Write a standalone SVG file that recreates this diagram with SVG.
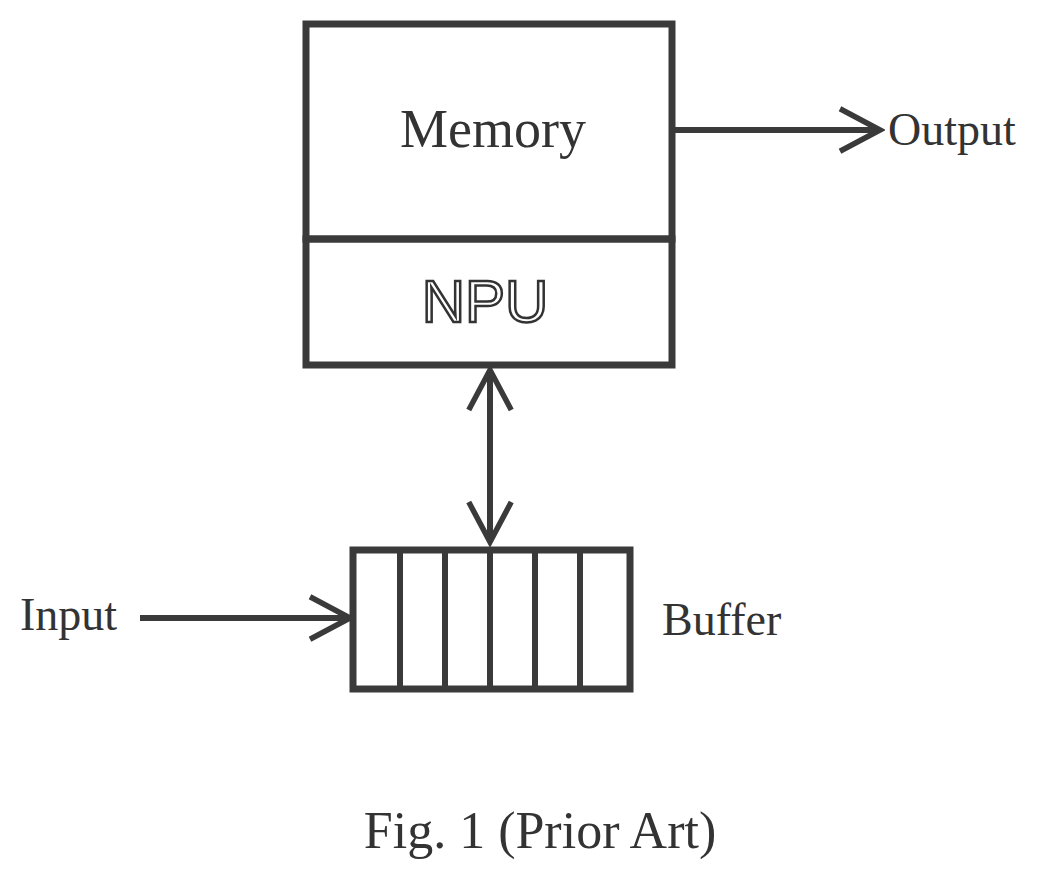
<svg xmlns="http://www.w3.org/2000/svg" width="1042" height="877" viewBox="0 0 1042 877">
<style>
.b{fill:none;stroke:#3a3a3a;stroke-width:7}
.c{fill:none;stroke:#3a3a3a;stroke-width:6}
.t{font-family:"Liberation Serif",serif;fill:#333}
</style>
<defs>
<marker id="a" viewBox="0 0 20 20" refX="18" refY="10" markerWidth="50" markerHeight="50" markerUnits="userSpaceOnUse" orient="auto-start-reverse">
<path d="M2,1.5 L18,10 L2,18.5" fill="none" stroke="#3a3a3a" stroke-width="2.2"/>
</marker>
</defs>
<rect width="1042" height="877" fill="#fff"/>
<g id="memory"><rect class="b" x="306" y="24" width="366" height="215"/><text class="t" x="493" y="147" font-size="54" text-anchor="middle">Memory</text></g>
<g id="npu"><rect class="b" x="306" y="239" width="366" height="126"/><text x="485" y="322" font-size="60" text-anchor="middle" font-family="Liberation Sans,sans-serif" fill="#fff" stroke="#333" stroke-width="2.5">NPU</text></g>
<g id="buffer"><rect class="b" x="353" y="550" width="277" height="139"/>
<path class="c" d="M400,550V689M445,550V689M490,550V689M535,550V689M580,550V689"/>
<text class="t" x="662" y="635" font-size="46">Buffer</text></g>
<g id="labels"><text class="t" x="888" y="145" font-size="46">Output</text><text class="t" x="20" y="630" font-size="46">Input</text>
<text class="t" x="540" y="848" font-size="52" text-anchor="middle">Fig. 1 (Prior Art)</text></g>
<g id="connectors">
<line class="c" x1="672" y1="130" x2="880" y2="130" marker-end="url(#a)"/>
<line class="c" x1="140" y1="618" x2="350" y2="618" marker-end="url(#a)"/>
<line class="c" x1="490" y1="370" x2="490" y2="542" marker-start="url(#a)" marker-end="url(#a)"/>
</g>
</svg>
